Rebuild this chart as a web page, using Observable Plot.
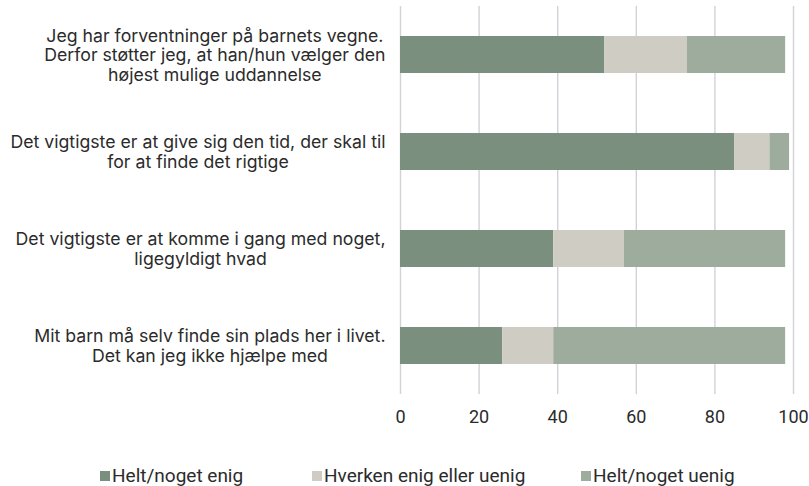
<!DOCTYPE html>
<html>
<head>
<meta charset="utf-8">
<script src="https://cdn.jsdelivr.net/npm/d3@7"></script>
<script src="https://cdn.jsdelivr.net/npm/@observablehq/plot@0.6"></script>
<style>
  html, body { margin: 0; padding: 0; background: #fff; }
  #chart { width: 809px; font-family: Roboto, "Noto Sans", sans-serif; color: #2b2b2b; }
  #legend { position: relative; width: 809px; height: 46px; font-family: Roboto, sans-serif; font-size: 19px; color: #2b2b2b; }
  .item { position: absolute; top: 24px; display: flex; align-items: center; white-space: nowrap; }
  .sw { width: 10px; height: 10px; margin-right: 2px; }
</style>
</head>
<body>
<div id="chart"></div>
<script>
const questions = [
  "Jeg har forventninger på barnets vegne.\nDerfor støtter jeg, at han/hun vælger den\nhøjest mulige uddannelse",
  "Det vigtigste er at give sig den tid, der skal til\nfor at finde det rigtige",
  "Det vigtigste er at komme i gang med noget,\nligegyldigt hvad",
  "Mit barn må selv finde sin plads her i livet.\nDet kan jeg ikke hjælpe med"
];
const seriesNames = ["Helt/noget enig", "Hverken enig eller uenig", "Helt/noget uenig"];
const enig = [52, 85, 39, 26];
const neutral = [21, 9, 18, 13];
const uenig = [25, 5, 41, 59];
const xTicks = [0, 20, 40, 60, 80, 100];
const colors = ["#7b8f7e", "#cfccc4", "#9eac9e"];
const legendLeft = [100, 312, 581];

const seriesValues = [enig, neutral, uenig];
const rows = [];
questions.forEach((q, i) => {
  seriesNames.forEach((s, j) => rows.push({question: q, series: s, value: seriesValues[j][i]}));
});

const plot = Plot.plot({
  width: 809,
  height: 440,
  marginTop: 6,
  marginBottom: 46,
  marginLeft: 400,
  marginRight: 16,
  style: {fontFamily: "Roboto, sans-serif", color: "#2b2b2b", background: "#fff"},
  x: {domain: [0, 100]},
  y: {domain: questions, paddingInner: 0.62, paddingOuter: 0.31},
  color: {domain: seriesNames, range: colors},
  marks: [
    Plot.gridX(xTicks, {stroke: "#d2d2d7", strokeOpacity: 1, strokeWidth: 1.4}),
    Plot.barX(rows, {x: "value", y: "question", fill: "series", order: null}),
    Plot.axisX({ticks: xTicks, tickSize: 0, tickPadding: 16, fontSize: 18, label: null}),
    Plot.axisY({tickSize: 0, tickPadding: 15, fontSize: 17.7, fontFamily: "Inter, sans-serif", lineHeight: 1.12, label: null, tickFormat: d => d})
  ]
});
document.getElementById("chart").appendChild(plot);

// center each multi-line label within its right-aligned block
plot.querySelectorAll('g[aria-label="y-axis tick label"] text').forEach(t => {
  const spans = t.querySelectorAll("tspan");
  let maxW = 0;
  (spans.length ? spans : [t]).forEach(s => { maxW = Math.max(maxW, s.getComputedTextLength()); });
  t.setAttribute("text-anchor", "middle");
  const tr = t.getAttribute("transform") || "";
  t.setAttribute("transform", tr + ` translate(${-maxW / 2},0)`);
});

const legend = document.createElement("div");
legend.id = "legend";
seriesNames.forEach((s, i) => {
  const it = document.createElement("div");
  it.className = "item";
  it.style.left = legendLeft[i] + "px";
  it.innerHTML = `<span class="sw" style="background:${colors[i]}"></span><span>${s}</span>`;
  legend.appendChild(it);
});
document.getElementById("chart").appendChild(legend);
</script>
</body>
</html>
